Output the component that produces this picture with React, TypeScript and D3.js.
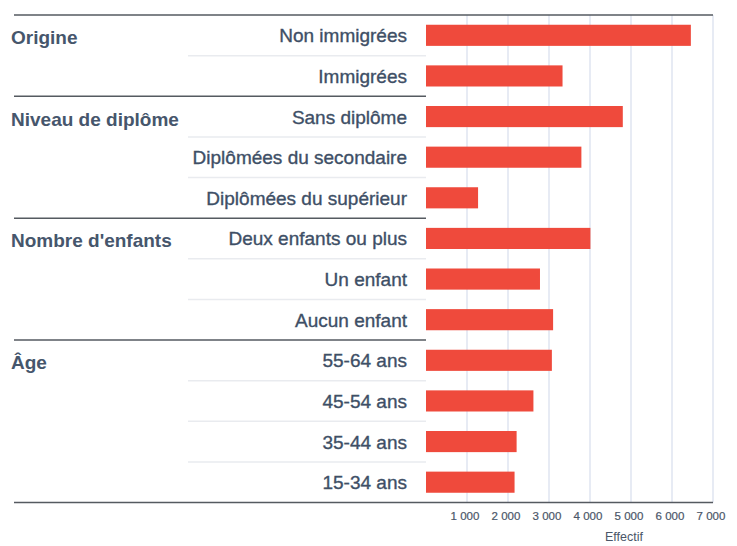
import React from 'react';
import * as d3 from 'd3';

const width = 737;
const height = 546;

const groups = ["Origine", "Niveau de diplôme", "Nombre d'enfants", "Âge"];
const categories = [
  'Non immigrées', 'Immigrées',
  'Sans diplôme', 'Diplômées du secondaire', 'Diplômées du supérieur',
  'Deux enfants ou plus', 'Un enfant', 'Aucun enfant',
  '55-64 ans', '45-54 ans', '35-44 ans', '15-34 ans',
];
const categoryGroup = [0, 0, 1, 1, 1, 2, 2, 2, 3, 3, 3, 3];
const values = [6460, 3330, 4800, 3790, 1270, 4010, 2780, 3100, 3070, 2620, 2210, 2160];
const ticks = [1000, 2000, 3000, 4000, 5000, 6000, 7000];
const axisTitle = 'Effectif';

const fmt = (v: number) => d3.format(',')(v).replace(',', '\u00a0');

export default function App() {
  const x = d3.scaleLinear().domain([0, 7000]).range([426, 713]);
  const y = d3.scaleBand<string>().domain(categories).range([15, 502.5]).paddingInner(0.48).paddingOuter(0.24);
  const step = y.step();
  const top = 15;
  const bottom = 502.5;
  const rowTop = (c: string) => y(c)! - y.paddingOuter() * step;

  const textColor = '#3e4f66';
  const font = '"Liberation Sans", Arial, sans-serif';

  return (
    <svg width={width} height={height} style={{ position: 'absolute', left: 0, top: 0, background: '#fff' }}>
      {/* grid */}
      {ticks.map(t => (
        <line key={'g' + t} x1={x(t)} x2={x(t)} y1={top} y2={bottom} stroke="#dfe5f0" strokeWidth={1.5} />
      ))}
      {/* light separators within groups */}
      {categories.map((c, i) => i > 0 && categoryGroup[i] === categoryGroup[i - 1] ? (
        <line key={'s' + c} x1={188} x2={426} y1={rowTop(c)} y2={rowTop(c)} stroke="#e9ebef" strokeWidth={1.5} />
      ) : null)}
      {/* group separators */}
      {categories.map((c, i) => i > 0 && categoryGroup[i] !== categoryGroup[i - 1] ? (
        <line key={'d' + c} x1={14} x2={426} y1={rowTop(c)} y2={rowTop(c)} stroke="#555a60" strokeWidth={1.5} />
      ) : null)}
      <line x1={14} x2={713} y1={top} y2={top} stroke="#555a60" strokeWidth={1.5} />
      <line x1={14} x2={713} y1={bottom} y2={bottom} stroke="#555a60" strokeWidth={1.5} />
      {/* bars */}
      {categories.map((c, i) => (
        <rect key={'b' + c} x={x(0)} y={y(c)} width={x(values[i]) - x(0)} height={y.bandwidth()} fill="#ef4a3c" />
      ))}
      {/* category labels */}
      {categories.map(c => (
        <text key={'l' + c} x={407} y={y(c)! + y.bandwidth() / 2 + 7} textAnchor="end"
          fontFamily={font} fontSize={19} fill={textColor} stroke={textColor} strokeWidth={0.35}>{c}</text>
      ))}
      {/* group labels */}
      {groups.map((g, gi) => {
        const first = categories[categoryGroup.indexOf(gi)];
        return (
          <text key={'G' + g} x={11} y={y(first)! + y.bandwidth() / 2 + 9} fontFamily={font}
            fontSize={19} fontWeight="bold" fill="#46566c">{g}</text>
        );
      })}
      {/* x axis labels */}
      {ticks.map(t => (
        <text key={'t' + t} x={x(t) - 2} y={520} textAnchor="middle" fontFamily={font} fontSize={11.5}
          fill="#4a5668" stroke="#4a5668" strokeWidth={0.2}>{fmt(t)}</text>
      ))}
      <text x={624} y={541} textAnchor="middle" fontFamily={font} fontSize={12.5} fill="#4a5668">{axisTitle}</text>
    </svg>
  );
}
